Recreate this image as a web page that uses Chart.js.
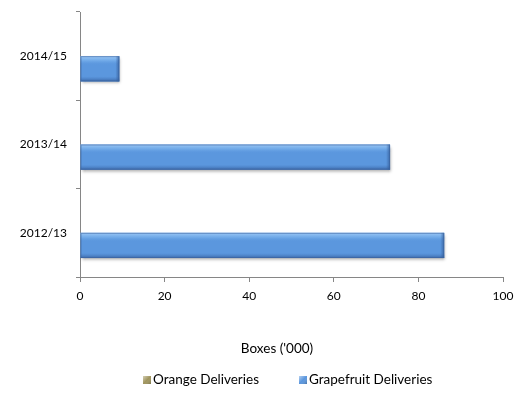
<!DOCTYPE html>
<html>
<head>
<meta charset="utf-8">
<script src="https://cdn.jsdelivr.net/npm/chart.js@4"></script>
<style>
  html, body { margin: 0; padding: 0; background: #fff; }
  #wrap { width: 522px; height: 394px; }
</style>
</head>
<body>
<div id="wrap"><canvas id="deliveriesChart" width="522" height="394"></canvas></div>
<script>
// ===========================
// DATA
// ===========================
const seasons = ['2014/15', '2013/14', '2012/13'];
const orangeDeliveries = [0, 0, 0];
const grapefruitDeliveries = [9.3, 73.3, 86.1];
const xTicks = [0, 20, 40, 60, 80, 100];
const xTitle = "Boxes ('000)";

const axisGrey = '#868686';
const fontFamily = 'Lato, "Open Sans", sans-serif';
const seriesColors = ['#a0955e', '#5b97de'];

// ===========================
// BEVEL + SHADOW ON BARS
// ===========================
const bevelPlugin = {
  id: 'bevel',
  beforeDatasetDraw(chart, args) {
    const ctx = chart.ctx;
    ctx.save();
    ctx.shadowColor = 'rgba(0,0,0,0.35)';
    ctx.shadowBlur = 3;
    ctx.shadowOffsetX = 1;
    ctx.shadowOffsetY = 2;
  },
  afterDatasetDraw(chart, args) {
    const ctx = chart.ctx;
    ctx.restore();
    if (args.index !== 1) return;
    args.meta.data.forEach(bar => {
      const p = bar.getProps(['x', 'y', 'base', 'height'], true);
      const left = Math.min(p.base, p.x);
      const right = Math.max(p.base, p.x);
      const top = p.y - p.height / 2;
      const bottom = p.y + p.height / 2;
      const w = right - left;
      const h = bottom - top;
      if (w <= 0) return;

      // soft vertical sheen
      const g = ctx.createLinearGradient(0, top, 0, bottom);
      g.addColorStop(0, 'rgba(170,210,250,0.85)');
      g.addColorStop(0.18, 'rgba(130,185,240,0.55)');
      g.addColorStop(0.35, 'rgba(91,151,222,0)');
      g.addColorStop(0.8, 'rgba(70,120,190,0)');
      g.addColorStop(1, 'rgba(50,90,150,0.8)');
      ctx.fillStyle = g;
      ctx.fillRect(left, top, w, h);

      // darker end cap
      const e = ctx.createLinearGradient(right - 4, 0, right, 0);
      e.addColorStop(0, 'rgba(50,90,150,0)');
      e.addColorStop(1, 'rgba(50,90,150,0.75)');
      ctx.fillStyle = e;
      ctx.fillRect(right - 4, top, 4, h);

      ctx.strokeStyle = 'rgba(60,100,160,0.6)';
      ctx.lineWidth = 1;
      ctx.strokeRect(left + 0.5, top + 0.5, w - 1, h - 1);
    });
  }
};

// ===========================
// AXIS TITLE + LEGEND ROW
// ===========================
const legendRow = {
  id: 'legendRow',
  afterDraw(chart) {
    const ctx = chart.ctx;
    ctx.save();
    ctx.font = '13.5px ' + fontFamily;
    ctx.textBaseline = 'middle';

    ctx.fillStyle = '#000';
    ctx.textAlign = 'center';
    ctx.fillText(xTitle, 277, 349);
    ctx.textAlign = 'left';

    const y = 380;
    const starts = [143, 299];
    chart.data.datasets.forEach((ds, i) => {
      const x = starts[i];
      const g = ctx.createLinearGradient(x, y - 4, x + 8, y + 4);
      g.addColorStop(0, 'rgba(255,255,255,0.55)');
      g.addColorStop(0.5, 'rgba(255,255,255,0)');
      g.addColorStop(1, 'rgba(0,0,0,0.25)');
      ctx.fillStyle = seriesColors[i];
      ctx.fillRect(x, y - 4, 8, 8);
      ctx.fillStyle = g;
      ctx.fillRect(x, y - 4, 8, 8);
      ctx.fillStyle = '#000';
      ctx.fillText(ds.label, x + 10, y);
    });
    ctx.restore();
  }
};

// ===========================
// CHART.JS - HORIZONTAL BAR CHART
// ===========================
const ctx = document.getElementById('deliveriesChart').getContext('2d');

new Chart(ctx, {
  type: 'bar',
  data: {
    labels: seasons,
    datasets: [{
      label: 'Orange Deliveries',
      data: orangeDeliveries,
      backgroundColor: seriesColors[0],
      borderWidth: 0,
      categoryPercentage: 0.571,
      barPercentage: 1
    }, {
      label: 'Grapefruit Deliveries',
      data: grapefruitDeliveries,
      backgroundColor: seriesColors[1],
      borderWidth: 0,
      categoryPercentage: 0.571,
      barPercentage: 1
    }]
  },
  options: {
    indexAxis: 'y',
    responsive: false,
    animation: false,
    layout: { padding: { top: 12, right: 19, left: 0, bottom: 35 } },
    scales: {
      x: {
        min: 0,
        max: 100,
        afterBuildTicks: scale => { scale.ticks = xTicks.map(v => ({ value: v })); },
        afterFit: scale => { scale.height = 82; },
        border: { color: axisGrey, width: 1 },
        grid: { drawOnChartArea: false, tickLength: 5, color: axisGrey },
        ticks: { color: '#000', padding: 7, font: { size: 12, family: fontFamily } }
      },
      y: {
        afterFit: scale => {
          scale.width = 80;
          scale.paddingTop = 0;
          scale.paddingBottom = 0;
        },
        border: { color: axisGrey, width: 1 },
        grid: { drawOnChartArea: false, tickLength: 4, color: axisGrey, offset: true },
        ticks: { color: '#000', padding: 9, font: { size: 12, family: fontFamily } }
      }
    },
    plugins: {
      legend: { display: false },
      tooltip: { enabled: false }
    }
  },
  plugins: [bevelPlugin, legendRow]
});
</script>
</body>
</html>
